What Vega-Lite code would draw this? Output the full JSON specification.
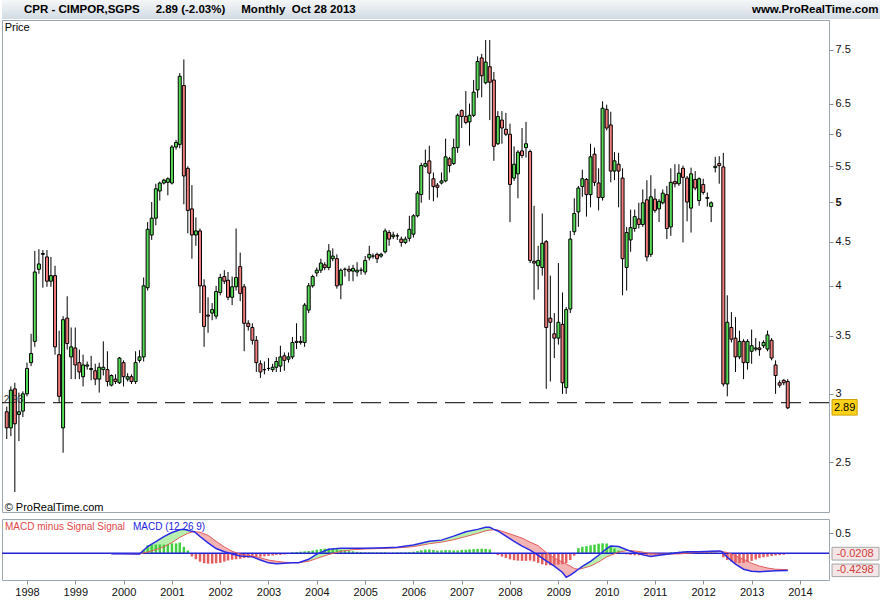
{
"$schema": "https://vega.github.io/schema/vega-lite/v6.json",
"padding": 0,
"background": "white",
"spacing": 1,
"bounds": "flush",
"config": {"font": "Liberation Sans", "view": {"stroke": "#9da7b0"}},
"datasets": {
"candles": [
{"t":"1997-08-01","o":2.86,"h":2.9,"l":2.66,"c":2.74},
{"t":"1997-09-01","o":2.74,"h":3.06,"l":2.68,"c":3.03},
{"t":"1997-10-01","o":3.04,"h":3.09,"l":2.31,"c":2.77},
{"t":"1997-11-01","o":2.84,"h":3.01,"l":2.645,"c":2.86},
{"t":"1997-12-01","o":2.865,"h":3.02,"l":2.82,"c":3.0},
{"t":"1998-01-01","o":3.0,"h":3.26,"l":2.98,"c":3.21},
{"t":"1998-02-01","o":3.26,"h":3.52,"l":3.23,"c":3.34},
{"t":"1998-03-01","o":3.45,"h":4.39,"l":3.4,"c":4.15},
{"t":"1998-04-01","o":4.18,"h":4.41,"l":4.13,"c":4.24},
{"t":"1998-05-01","o":4.36,"h":4.4,"l":3.98,"c":4.35},
{"t":"1998-06-01","o":4.32,"h":4.4,"l":3.99,"c":4.05},
{"t":"1998-07-01","o":4.05,"h":4.32,"l":3.99,"c":4.11},
{"t":"1998-08-01","o":4.11,"h":4.22,"l":3.33,"c":3.4},
{"t":"1998-09-01","o":3.33,"h":3.55,"l":2.93,"c":2.98},
{"t":"1998-10-01","o":2.74,"h":3.69,"l":2.565,"c":3.655},
{"t":"1998-11-01","o":3.67,"h":3.89,"l":3.375,"c":3.43},
{"t":"1998-12-01","o":3.31,"h":3.58,"l":3.12,"c":3.4},
{"t":"1999-01-01","o":3.39,"h":3.58,"l":3.12,"c":3.24},
{"t":"1999-02-01","o":3.26,"h":3.375,"l":3.12,"c":3.18},
{"t":"1999-03-01","o":3.14,"h":3.33,"l":3.06,"c":3.24},
{"t":"1999-04-01","o":3.23,"h":3.27,"l":3.2,"c":3.24},
{"t":"1999-05-01","o":3.2,"h":3.32,"l":3.11,"c":3.21},
{"t":"1999-06-01","o":3.19,"h":3.25,"l":3.07,"c":3.12},
{"t":"1999-07-01","o":3.12,"h":3.26,"l":3.01,"c":3.22},
{"t":"1999-08-01","o":3.2,"h":3.45,"l":3.15,"c":3.22},
{"t":"1999-09-01","o":3.2,"h":3.36,"l":3.06,"c":3.1},
{"t":"1999-10-01","o":3.07,"h":3.16,"l":3.06,"c":3.15},
{"t":"1999-11-01","o":3.12,"h":3.16,"l":3.08,"c":3.1},
{"t":"1999-12-01","o":3.09,"h":3.31,"l":3.08,"c":3.3},
{"t":"2000-01-01","o":3.26,"h":3.28,"l":3.06,"c":3.14},
{"t":"2000-02-01","o":3.12,"h":3.17,"l":3.1,"c":3.14},
{"t":"2000-03-01","o":3.14,"h":3.16,"l":3.08,"c":3.1},
{"t":"2000-04-01","o":3.1,"h":3.36,"l":3.08,"c":3.26},
{"t":"2000-05-01","o":3.28,"h":3.37,"l":3.26,"c":3.31},
{"t":"2000-06-01","o":3.31,"h":4.09,"l":3.27,"c":4.0},
{"t":"2000-07-01","o":3.98,"h":4.74,"l":3.95,"c":4.65},
{"t":"2000-08-01","o":4.58,"h":5.0,"l":4.52,"c":4.79},
{"t":"2000-09-01","o":4.79,"h":5.25,"l":4.7,"c":5.18},
{"t":"2000-10-01","o":5.15,"h":5.28,"l":5.02,"c":5.26},
{"t":"2000-11-01","o":5.26,"h":5.32,"l":5.24,"c":5.3},
{"t":"2000-12-01","o":5.27,"h":5.34,"l":5.09,"c":5.32},
{"t":"2001-01-01","o":5.26,"h":5.82,"l":5.24,"c":5.79},
{"t":"2001-02-01","o":5.79,"h":5.9,"l":5.75,"c":5.86},
{"t":"2001-03-01","o":5.83,"h":7.05,"l":5.77,"c":6.99},
{"t":"2001-04-01","o":6.82,"h":7.31,"l":4.97,"c":5.36},
{"t":"2001-05-01","o":5.47,"h":5.5,"l":4.6,"c":4.89},
{"t":"2001-06-01","o":4.91,"h":5.23,"l":4.3,"c":4.58},
{"t":"2001-07-01","o":4.58,"h":4.8,"l":4.45,"c":4.63},
{"t":"2001-08-01","o":4.63,"h":4.66,"l":3.72,"c":4.0},
{"t":"2001-09-01","o":4.0,"h":4.07,"l":3.4,"c":3.59},
{"t":"2001-10-01","o":3.7,"h":3.88,"l":3.53,"c":3.69},
{"t":"2001-11-01","o":3.72,"h":3.82,"l":3.65,"c":3.755},
{"t":"2001-12-01","o":3.69,"h":4.0,"l":3.66,"c":3.94},
{"t":"2002-01-01","o":3.93,"h":4.13,"l":3.9,"c":4.09},
{"t":"2002-02-01","o":4.1,"h":4.17,"l":4.02,"c":4.05},
{"t":"2002-03-01","o":4.06,"h":4.15,"l":3.85,"c":3.88},
{"t":"2002-04-01","o":3.88,"h":4.1,"l":3.8,"c":3.99},
{"t":"2002-05-01","o":3.99,"h":4.66,"l":3.95,"c":4.09},
{"t":"2002-06-01","o":4.21,"h":4.37,"l":3.84,"c":3.92},
{"t":"2002-07-01","o":3.99,"h":4.02,"l":3.36,"c":3.62},
{"t":"2002-08-01","o":3.62,"h":3.65,"l":3.55,"c":3.59},
{"t":"2002-09-01","o":3.58,"h":3.62,"l":3.42,"c":3.46},
{"t":"2002-10-01","o":3.46,"h":3.5,"l":3.18,"c":3.26},
{"t":"2002-11-01","o":3.25,"h":3.28,"l":3.13,"c":3.18},
{"t":"2002-12-01","o":3.2,"h":3.27,"l":3.16,"c":3.2},
{"t":"2003-01-01","o":3.21,"h":3.3,"l":3.19,"c":3.21},
{"t":"2003-02-01","o":3.2,"h":3.25,"l":3.18,"c":3.22},
{"t":"2003-03-01","o":3.22,"h":3.31,"l":3.18,"c":3.27},
{"t":"2003-04-01","o":3.23,"h":3.41,"l":3.18,"c":3.31},
{"t":"2003-05-01","o":3.32,"h":3.35,"l":3.19,"c":3.28},
{"t":"2003-06-01","o":3.29,"h":3.35,"l":3.26,"c":3.31},
{"t":"2003-07-01","o":3.31,"h":3.49,"l":3.29,"c":3.44},
{"t":"2003-08-01","o":3.45,"h":3.62,"l":3.38,"c":3.44},
{"t":"2003-09-01","o":3.44,"h":3.5,"l":3.42,"c":3.45},
{"t":"2003-10-01","o":3.44,"h":3.82,"l":3.4,"c":3.8},
{"t":"2003-11-01","o":3.75,"h":4.03,"l":3.72,"c":4.0},
{"t":"2003-12-01","o":4.0,"h":4.12,"l":3.98,"c":4.1},
{"t":"2004-01-01","o":4.14,"h":4.2,"l":4.1,"c":4.17},
{"t":"2004-02-01","o":4.17,"h":4.3,"l":4.14,"c":4.25},
{"t":"2004-03-01","o":4.23,"h":4.26,"l":4.17,"c":4.2},
{"t":"2004-04-01","o":4.2,"h":4.47,"l":4.17,"c":4.39},
{"t":"2004-05-01","o":4.3,"h":4.42,"l":4.27,"c":4.33},
{"t":"2004-06-01","o":4.3,"h":4.35,"l":3.97,"c":4.0},
{"t":"2004-07-01","o":4.01,"h":4.19,"l":3.86,"c":4.17},
{"t":"2004-08-01","o":4.18,"h":4.2,"l":4.1,"c":4.18},
{"t":"2004-09-01","o":4.18,"h":4.22,"l":4.05,"c":4.16},
{"t":"2004-10-01","o":4.16,"h":4.23,"l":4.05,"c":4.19},
{"t":"2004-11-01","o":4.15,"h":4.26,"l":4.1,"c":4.17},
{"t":"2004-12-01","o":4.17,"h":4.2,"l":4.12,"c":4.17},
{"t":"2005-01-01","o":4.15,"h":4.33,"l":4.12,"c":4.28},
{"t":"2005-02-01","o":4.31,"h":4.45,"l":4.28,"c":4.35},
{"t":"2005-03-01","o":4.33,"h":4.36,"l":4.3,"c":4.33},
{"t":"2005-04-01","o":4.35,"h":4.37,"l":4.25,"c":4.3},
{"t":"2005-05-01","o":4.33,"h":4.37,"l":4.31,"c":4.35},
{"t":"2005-06-01","o":4.38,"h":4.66,"l":4.36,"c":4.63},
{"t":"2005-07-01","o":4.61,"h":4.64,"l":4.45,"c":4.53},
{"t":"2005-08-01","o":4.56,"h":4.62,"l":4.53,"c":4.58},
{"t":"2005-09-01","o":4.57,"h":4.6,"l":4.52,"c":4.57},
{"t":"2005-10-01","o":4.53,"h":4.56,"l":4.44,"c":4.49},
{"t":"2005-11-01","o":4.49,"h":4.56,"l":4.47,"c":4.53},
{"t":"2005-12-01","o":4.54,"h":4.82,"l":4.5,"c":4.65},
{"t":"2006-01-01","o":4.59,"h":4.84,"l":4.55,"c":4.82},
{"t":"2006-02-01","o":4.82,"h":5.15,"l":4.8,"c":5.12},
{"t":"2006-03-01","o":5.1,"h":5.55,"l":4.99,"c":5.51},
{"t":"2006-04-01","o":5.5,"h":5.75,"l":5.48,"c":5.54},
{"t":"2006-05-01","o":5.58,"h":5.81,"l":5.03,"c":5.4},
{"t":"2006-06-01","o":5.32,"h":5.41,"l":5.01,"c":5.21},
{"t":"2006-07-01","o":5.23,"h":5.26,"l":5.06,"c":5.2},
{"t":"2006-08-01","o":5.26,"h":5.41,"l":5.24,"c":5.29},
{"t":"2006-09-01","o":5.29,"h":5.92,"l":5.27,"c":5.64},
{"t":"2006-10-01","o":5.61,"h":5.64,"l":5.41,"c":5.51},
{"t":"2006-11-01","o":5.54,"h":5.92,"l":5.52,"c":5.78},
{"t":"2006-12-01","o":5.78,"h":6.33,"l":5.7,"c":6.3},
{"t":"2007-01-01","o":6.38,"h":6.4,"l":6.09,"c":6.28},
{"t":"2007-02-01","o":6.28,"h":6.72,"l":6.15,"c":6.18},
{"t":"2007-03-01","o":6.19,"h":6.5,"l":5.81,"c":6.3},
{"t":"2007-04-01","o":6.3,"h":6.92,"l":6.27,"c":6.7},
{"t":"2007-05-01","o":6.74,"h":7.37,"l":6.6,"c":7.27},
{"t":"2007-06-01","o":7.34,"h":7.42,"l":6.61,"c":7.0},
{"t":"2007-07-01","o":6.87,"h":7.7,"l":6.84,"c":7.26},
{"t":"2007-08-01","o":7.17,"h":7.7,"l":6.22,"c":6.88},
{"t":"2007-09-01","o":6.92,"h":7.07,"l":5.58,"c":5.8},
{"t":"2007-10-01","o":5.84,"h":6.37,"l":5.82,"c":6.28},
{"t":"2007-11-01","o":6.22,"h":6.37,"l":5.84,"c":6.09},
{"t":"2007-12-01","o":6.07,"h":6.34,"l":5.96,"c":5.99},
{"t":"2008-01-01","o":5.99,"h":6.16,"l":4.74,"c":5.24},
{"t":"2008-02-01","o":5.33,"h":5.8,"l":5.29,"c":5.53},
{"t":"2008-03-01","o":5.39,"h":5.74,"l":5.05,"c":5.71},
{"t":"2008-04-01","o":5.73,"h":6.09,"l":5.62,"c":5.66},
{"t":"2008-05-01","o":5.78,"h":6.19,"l":5.63,"c":5.84},
{"t":"2008-06-01","o":5.72,"h":5.75,"l":4.25,"c":4.28},
{"t":"2008-07-01","o":4.27,"h":4.95,"l":3.855,"c":4.25},
{"t":"2008-08-01","o":4.22,"h":4.45,"l":3.96,"c":4.28},
{"t":"2008-09-01","o":4.2,"h":4.85,"l":4.11,"c":4.48},
{"t":"2008-10-01","o":4.5,"h":4.52,"l":3.04,"c":3.58},
{"t":"2008-11-01","o":3.67,"h":4.11,"l":3.1,"c":3.63},
{"t":"2008-12-01","o":3.52,"h":3.72,"l":3.3,"c":3.48},
{"t":"2009-01-01","o":3.48,"h":4.25,"l":3.42,"c":3.63},
{"t":"2009-02-01","o":3.61,"h":3.93,"l":3.0,"c":3.09},
{"t":"2009-03-01","o":3.05,"h":3.78,"l":3.0,"c":3.755},
{"t":"2009-04-01","o":3.76,"h":4.63,"l":3.72,"c":4.53},
{"t":"2009-05-01","o":4.62,"h":5.05,"l":4.58,"c":4.85},
{"t":"2009-06-01","o":4.87,"h":5.22,"l":4.68,"c":5.19},
{"t":"2009-07-01","o":5.21,"h":5.45,"l":5.07,"c":5.32},
{"t":"2009-08-01","o":5.31,"h":5.33,"l":4.81,"c":5.1},
{"t":"2009-09-01","o":5.1,"h":5.84,"l":4.93,"c":5.64},
{"t":"2009-10-01","o":5.68,"h":5.78,"l":5.22,"c":5.27},
{"t":"2009-11-01","o":5.26,"h":5.47,"l":4.89,"c":5.06},
{"t":"2009-12-01","o":5.06,"h":6.54,"l":5.02,"c":6.42},
{"t":"2010-01-01","o":6.4,"h":6.48,"l":6.05,"c":6.09},
{"t":"2010-02-01","o":6.14,"h":6.36,"l":5.27,"c":5.43},
{"t":"2010-03-01","o":5.43,"h":5.71,"l":5.3,"c":5.58},
{"t":"2010-04-01","o":5.53,"h":5.7,"l":4.93,"c":5.43},
{"t":"2010-05-01","o":5.33,"h":5.47,"l":3.9,"c":4.3},
{"t":"2010-06-01","o":4.2,"h":4.68,"l":3.95,"c":4.61},
{"t":"2010-07-01","o":4.52,"h":4.9,"l":4.38,"c":4.67},
{"t":"2010-08-01","o":4.66,"h":4.9,"l":4.62,"c":4.81},
{"t":"2010-09-01","o":4.78,"h":4.99,"l":4.66,"c":4.71},
{"t":"2010-10-01","o":4.71,"h":5.17,"l":4.68,"c":4.99},
{"t":"2010-11-01","o":5.03,"h":5.3,"l":4.27,"c":4.32},
{"t":"2010-12-01","o":4.35,"h":5.37,"l":4.32,"c":5.07},
{"t":"2011-01-01","o":5.04,"h":5.18,"l":4.86,"c":4.89},
{"t":"2011-02-01","o":4.91,"h":5.04,"l":4.74,"c":5.01},
{"t":"2011-03-01","o":4.99,"h":5.17,"l":4.97,"c":5.12},
{"t":"2011-04-01","o":5.1,"h":5.22,"l":4.53,"c":4.66},
{"t":"2011-05-01","o":4.68,"h":5.47,"l":4.57,"c":5.27},
{"t":"2011-06-01","o":5.28,"h":5.53,"l":5.2,"c":5.25},
{"t":"2011-07-01","o":5.25,"h":5.53,"l":5.22,"c":5.4},
{"t":"2011-08-01","o":5.47,"h":5.51,"l":4.49,"c":5.34},
{"t":"2011-09-01","o":5.33,"h":5.36,"l":4.75,"c":5.0},
{"t":"2011-10-01","o":4.92,"h":5.48,"l":4.61,"c":5.39},
{"t":"2011-11-01","o":5.31,"h":5.43,"l":5.16,"c":5.19},
{"t":"2011-12-01","o":5.02,"h":5.34,"l":4.95,"c":5.32},
{"t":"2012-01-01","o":5.24,"h":5.32,"l":5.1,"c":5.13},
{"t":"2012-02-01","o":5.06,"h":5.13,"l":4.94,"c":5.05},
{"t":"2012-03-01","o":4.94,"h":5.01,"l":4.74,"c":4.99},
{"t":"2012-04-01","o":5.48,"h":5.64,"l":5.41,"c":5.5},
{"t":"2012-05-01","o":5.54,"h":5.65,"l":5.25,"c":5.51},
{"t":"2012-06-01","o":5.49,"h":5.7,"l":3.06,"c":3.08},
{"t":"2012-07-01","o":3.08,"h":3.9,"l":2.98,"c":3.63},
{"t":"2012-08-01","o":3.58,"h":3.73,"l":3.44,"c":3.47},
{"t":"2012-09-01","o":3.48,"h":3.68,"l":3.18,"c":3.31},
{"t":"2012-10-01","o":3.31,"h":3.55,"l":3.29,"c":3.45},
{"t":"2012-11-01","o":3.45,"h":3.47,"l":3.12,"c":3.26},
{"t":"2012-12-01","o":3.26,"h":3.47,"l":3.2,"c":3.45},
{"t":"2013-01-01","o":3.36,"h":3.56,"l":3.25,"c":3.41},
{"t":"2013-02-01","o":3.38,"h":3.48,"l":3.36,"c":3.39},
{"t":"2013-03-01","o":3.39,"h":3.45,"l":3.32,"c":3.375},
{"t":"2013-04-01","o":3.41,"h":3.46,"l":3.39,"c":3.44},
{"t":"2013-05-01","o":3.38,"h":3.55,"l":3.36,"c":3.51},
{"t":"2013-06-01","o":3.46,"h":3.48,"l":3.28,"c":3.3},
{"t":"2013-07-01","o":3.24,"h":3.28,"l":3.0,"c":3.15},
{"t":"2013-08-01","o":3.09,"h":3.11,"l":3.05,"c":3.07},
{"t":"2013-09-01","o":3.11,"h":3.12,"l":3.07,"c":3.09},
{"t":"2013-10-01","o":3.1,"h":3.12,"l":2.88,"c":2.89}
],
"macd": [
{"t":"1999-10-01","m":-0.01,"s":-0.01,"g":0,"p":"na"},
{"t":"2000-01-01","m":-0.014,"s":-0.012,"g":0,"p":"na"},
{"t":"2000-05-01","m":-0.017,"s":-0.017,"g":1,"p":"up"},
{"t":"2000-07-01","m":0.17,"s":0.03,"g":1,"p":"up"},
{"t":"2000-09-01","m":0.29,"s":0.09,"g":1,"p":"up"},
{"t":"2000-11-01","m":0.42,"s":0.16,"g":1,"p":"up"},
{"t":"2001-01-01","m":0.52,"s":0.27,"g":1,"p":"up"},
{"t":"2001-03-01","m":0.59,"s":0.4,"g":1,"p":"up"},
{"t":"2001-04-01","m":0.6,"s":0.45,"g":1,"p":"up"},
{"t":"2001-05-01","m":0.58,"s":0.5,"g":1,"p":"up"},
{"t":"2001-06-01","m":0.55,"s":0.53,"g":1,"p":"up"},
{"t":"2001-06-19","m":0.54,"s":0.54,"g":1,"p":"up"},
{"t":"2001-06-19","m":0.54,"s":0.54,"g":2,"p":"dn"},
{"t":"2001-08-01","m":0.42,"s":0.53,"g":2,"p":"dn"},
{"t":"2001-10-01","m":0.26,"s":0.45,"g":2,"p":"dn"},
{"t":"2001-12-01","m":0.12,"s":0.3,"g":2,"p":"dn"},
{"t":"2002-02-01","m":0.04,"s":0.16,"g":2,"p":"dn"},
{"t":"2002-04-01","m":-0.02,"s":0.05,"g":2,"p":"dn"},
{"t":"2002-06-01","m":-0.07,"s":-0.02,"g":2,"p":"dn"},
{"t":"2002-09-01","m":-0.09,"s":-0.07,"g":2,"p":"dn"},
{"t":"2002-11-01","m":-0.17,"s":-0.11,"g":2,"p":"dn"},
{"t":"2003-01-01","m":-0.24,"s":-0.17,"g":2,"p":"dn"},
{"t":"2003-03-01","m":-0.26,"s":-0.2,"g":2,"p":"dn"},
{"t":"2003-05-01","m":-0.25,"s":-0.225,"g":2,"p":"dn"},
{"t":"2003-07-01","m":-0.24,"s":-0.235,"g":2,"p":"dn"},
{"t":"2003-08-16","m":-0.235,"s":-0.235,"g":2,"p":"dn"},
{"t":"2003-08-16","m":-0.235,"s":-0.235,"g":3,"p":"up"},
{"t":"2003-11-01","m":-0.15,"s":-0.2,"g":3,"p":"up"},
{"t":"2004-01-01","m":-0.02,"s":-0.13,"g":3,"p":"up"},
{"t":"2004-04-01","m":0.1,"s":-0.03,"g":3,"p":"up"},
{"t":"2004-07-01","m":0.125,"s":0.05,"g":3,"p":"up"},
{"t":"2004-10-01","m":0.125,"s":0.09,"g":3,"p":"up"},
{"t":"2005-01-01","m":0.125,"s":0.108,"g":3,"p":"up"},
{"t":"2005-06-01","m":0.14,"s":0.123,"g":3,"p":"up"},
{"t":"2005-09-01","m":0.15,"s":0.135,"g":3,"p":"up"},
{"t":"2006-01-01","m":0.21,"s":0.167,"g":3,"p":"up"},
{"t":"2006-05-01","m":0.3,"s":0.24,"g":3,"p":"up"},
{"t":"2006-08-01","m":0.33,"s":0.28,"g":3,"p":"up"},
{"t":"2006-11-01","m":0.43,"s":0.34,"g":3,"p":"up"},
{"t":"2007-02-01","m":0.54,"s":0.42,"g":3,"p":"up"},
{"t":"2007-05-01","m":0.6,"s":0.5,"g":3,"p":"up"},
{"t":"2007-07-01","m":0.65,"s":0.565,"g":3,"p":"up"},
{"t":"2007-08-01","m":0.65,"s":0.58,"g":3,"p":"up"},
{"t":"2007-09-01","m":0.6,"s":0.59,"g":3,"p":"up"},
{"t":"2007-09-10","m":0.59,"s":0.59,"g":3,"p":"up"},
{"t":"2007-09-10","m":0.59,"s":0.59,"g":4,"p":"dn"},
{"t":"2007-10-01","m":0.56,"s":0.585,"g":4,"p":"dn"},
{"t":"2007-12-01","m":0.43,"s":0.52,"g":4,"p":"dn"},
{"t":"2008-02-01","m":0.3,"s":0.45,"g":4,"p":"dn"},
{"t":"2008-04-01","m":0.18,"s":0.38,"g":4,"p":"dn"},
{"t":"2008-06-01","m":0.08,"s":0.28,"g":4,"p":"dn"},
{"t":"2008-08-01","m":-0.05,"s":0.19,"g":4,"p":"dn"},
{"t":"2008-10-01","m":-0.19,"s":0.02,"g":4,"p":"dn"},
{"t":"2008-12-01","m":-0.32,"s":-0.12,"g":4,"p":"dn"},
{"t":"2009-02-01","m":-0.48,"s":-0.22,"g":4,"p":"dn"},
{"t":"2009-03-01","m":-0.6,"s":-0.27,"g":4,"p":"dn"},
{"t":"2009-04-01","m":-0.55,"s":-0.32,"g":4,"p":"dn"},
{"t":"2009-05-01","m":-0.48,"s":-0.38,"g":4,"p":"dn"},
{"t":"2009-06-01","m":-0.4,"s":-0.4,"g":4,"p":"dn"},
{"t":"2009-06-01","m":-0.4,"s":-0.4,"g":5,"p":"up"},
{"t":"2009-07-01","m":-0.33,"s":-0.38,"g":5,"p":"up"},
{"t":"2009-09-01","m":-0.2,"s":-0.32,"g":5,"p":"up"},
{"t":"2009-11-01","m":-0.05,"s":-0.22,"g":5,"p":"up"},
{"t":"2010-01-01","m":0.12,"s":-0.09,"g":5,"p":"up"},
{"t":"2010-02-01","m":0.18,"s":-0.05,"g":5,"p":"up"},
{"t":"2010-04-01","m":0.17,"s":0.03,"g":5,"p":"up"},
{"t":"2010-06-01","m":0.09,"s":0.065,"g":5,"p":"up"},
{"t":"2010-06-22","m":0.065,"s":0.065,"g":5,"p":"up"},
{"t":"2010-06-22","m":0.065,"s":0.065,"g":6,"p":"dn"},
{"t":"2010-08-01","m":0.02,"s":0.06,"g":6,"p":"dn"},
{"t":"2010-10-01","m":-0.04,"s":0.03,"g":6,"p":"dn"},
{"t":"2010-12-01","m":-0.08,"s":-0.01,"g":6,"p":"dn"},
{"t":"2011-02-01","m":-0.05,"s":-0.02,"g":6,"p":"dn"},
{"t":"2011-04-01","m":-0.025,"s":-0.02,"g":6,"p":"dn"},
{"t":"2011-04-16","m":-0.02,"s":-0.02,"g":6,"p":"dn"},
{"t":"2011-04-16","m":-0.02,"s":-0.02,"g":7,"p":"up"},
{"t":"2011-07-01","m":0.02,"s":-0.015,"g":7,"p":"up"},
{"t":"2011-09-01","m":0.04,"s":0.0,"g":7,"p":"up"},
{"t":"2011-12-01","m":0.04,"s":0.025,"g":7,"p":"up"},
{"t":"2012-03-01","m":0.05,"s":0.035,"g":7,"p":"up"},
{"t":"2012-05-01","m":0.06,"s":0.045,"g":7,"p":"up"},
{"t":"2012-05-19","m":0.045,"s":0.045,"g":7,"p":"up"},
{"t":"2012-05-19","m":0.045,"s":0.045,"g":8,"p":"dn"},
{"t":"2012-07-01","m":-0.1,"s":0.02,"g":8,"p":"dn"},
{"t":"2012-09-01","m":-0.27,"s":-0.06,"g":8,"p":"dn"},
{"t":"2012-11-01","m":-0.4,"s":-0.15,"g":8,"p":"dn"},
{"t":"2013-01-01","m":-0.45,"s":-0.25,"g":8,"p":"dn"},
{"t":"2013-03-01","m":-0.46,"s":-0.32,"g":8,"p":"dn"},
{"t":"2013-05-01","m":-0.45,"s":-0.37,"g":8,"p":"dn"},
{"t":"2013-07-01","m":-0.44,"s":-0.4,"g":8,"p":"dn"},
{"t":"2013-10-01","m":-0.43,"s":-0.41,"g":8,"p":"dn"}
],
"hist": [
{"t":"2000-06-01","v":0.08},{"t":"2000-07-01","v":0.2},{"t":"2000-08-01","v":0.22},{"t":"2000-09-01","v":0.22},{"t":"2000-10-01","v":0.22},{"t":"2000-11-01","v":0.22},{"t":"2000-12-01","v":0.22},
{"t":"2001-01-01","v":0.25},{"t":"2001-02-01","v":0.25},{"t":"2001-03-01","v":0.27},{"t":"2001-04-01","v":0.16},{"t":"2001-05-01","v":0.07},{"t":"2001-06-01","v":-0.08},{"t":"2001-07-01","v":-0.15},{"t":"2001-08-01","v":-0.21},{"t":"2001-09-01","v":-0.25},{"t":"2001-10-01","v":-0.26},{"t":"2001-11-01","v":-0.26},{"t":"2001-12-01","v":-0.25},
{"t":"2002-01-01","v":-0.24},{"t":"2002-02-01","v":-0.21},{"t":"2002-03-01","v":-0.18},{"t":"2002-04-01","v":-0.16},{"t":"2002-05-01","v":-0.15},{"t":"2002-06-01","v":-0.14},{"t":"2002-07-01","v":-0.12},{"t":"2002-08-01","v":-0.11},{"t":"2002-09-01","v":-0.1},{"t":"2002-10-01","v":-0.09},{"t":"2002-11-01","v":-0.087},{"t":"2002-12-01","v":-0.078},
{"t":"2003-01-01","v":-0.066},{"t":"2003-02-01","v":-0.057},{"t":"2003-03-01","v":-0.041},{"t":"2003-04-01","v":-0.041},{"t":"2003-05-01","v":-0.029},{"t":"2003-06-01","v":-0.016},{"t":"2003-07-01","v":0.025},{"t":"2003-08-01","v":0.033},{"t":"2003-09-01","v":0.041},{"t":"2003-10-01","v":0.049},{"t":"2003-11-01","v":0.057},{"t":"2003-12-01","v":0.07},
{"t":"2004-01-01","v":0.09},{"t":"2004-02-01","v":0.107},{"t":"2004-03-01","v":0.115},{"t":"2004-04-01","v":0.115},{"t":"2004-05-01","v":0.107},{"t":"2004-06-01","v":0.098},{"t":"2004-07-01","v":0.082},{"t":"2004-08-01","v":0.07},{"t":"2004-09-01","v":0.06},{"t":"2004-10-01","v":0.05},{"t":"2004-11-01","v":0.038},{"t":"2004-12-01","v":0.03},
{"t":"2005-01-01","v":0.025},{"t":"2005-02-01","v":0.025},{"t":"2005-03-01","v":0.025},{"t":"2005-04-01","v":0.025},{"t":"2005-05-01","v":0.025},{"t":"2005-06-01","v":0.025},{"t":"2005-07-01","v":0.016},{"t":"2005-08-01","v":0.019},{"t":"2005-09-01","v":0.025},{"t":"2005-10-01","v":0.025},{"t":"2005-11-01","v":0.025},{"t":"2005-12-01","v":0.031},
{"t":"2006-01-01","v":0.039},{"t":"2006-02-01","v":0.055},{"t":"2006-03-01","v":0.076},{"t":"2006-04-01","v":0.093},{"t":"2006-05-01","v":0.095},{"t":"2006-06-01","v":0.082},{"t":"2006-07-01","v":0.066},{"t":"2006-08-01","v":0.072},{"t":"2006-09-01","v":0.08},{"t":"2006-10-01","v":0.077},{"t":"2006-11-01","v":0.07},{"t":"2006-12-01","v":0.071},
{"t":"2007-01-01","v":0.084},{"t":"2007-02-01","v":0.09},{"t":"2007-03-01","v":0.098},{"t":"2007-04-01","v":0.105},{"t":"2007-05-01","v":0.112},{"t":"2007-06-01","v":0.115},{"t":"2007-07-01","v":0.11},{"t":"2007-08-01","v":0.098},{"t":"2007-09-01","v":-0.01},{"t":"2007-10-01","v":-0.045},{"t":"2007-11-01","v":-0.082},{"t":"2007-12-01","v":-0.117},
{"t":"2008-01-01","v":-0.153},{"t":"2008-02-01","v":-0.174},{"t":"2008-03-01","v":-0.185},{"t":"2008-04-01","v":-0.19},{"t":"2008-05-01","v":-0.19},{"t":"2008-06-01","v":-0.184},{"t":"2008-07-01","v":-0.205},{"t":"2008-08-01","v":-0.24},{"t":"2008-09-01","v":-0.276},{"t":"2008-10-01","v":-0.3},{"t":"2008-11-01","v":-0.3},{"t":"2008-12-01","v":-0.29},
{"t":"2009-01-01","v":-0.285},{"t":"2009-02-01","v":-0.275},{"t":"2009-03-01","v":-0.246},{"t":"2009-04-01","v":-0.17},{"t":"2009-05-01","v":-0.06},{"t":"2009-06-01","v":0.13},{"t":"2009-07-01","v":0.164},{"t":"2009-08-01","v":0.18},{"t":"2009-09-01","v":0.2},{"t":"2009-10-01","v":0.217},{"t":"2009-11-01","v":0.24},{"t":"2009-12-01","v":0.25},
{"t":"2010-01-01","v":0.246},{"t":"2010-02-01","v":0.19},{"t":"2010-03-01","v":0.12},{"t":"2010-04-01","v":0.066},{"t":"2010-05-01","v":0.01},{"t":"2010-06-01","v":-0.027},{"t":"2010-07-01","v":-0.041},{"t":"2010-08-01","v":-0.049},{"t":"2010-09-01","v":-0.049},{"t":"2010-10-01","v":-0.043},{"t":"2010-11-01","v":-0.036},{"t":"2010-12-01","v":-0.033},
{"t":"2011-01-01","v":-0.03},{"t":"2011-02-01","v":-0.023},{"t":"2011-03-01","v":-0.016},{"t":"2011-04-01","v":-0.016},{"t":"2011-05-01","v":0.025},{"t":"2011-06-01","v":0.03},{"t":"2011-07-01","v":0.038},{"t":"2011-08-01","v":0.044},{"t":"2011-09-01","v":0.049},{"t":"2011-10-01","v":0.049},{"t":"2011-11-01","v":0.041},{"t":"2011-12-01","v":0.041},
{"t":"2012-01-01","v":0.041},{"t":"2012-02-01","v":0.035},{"t":"2012-03-01","v":0.028},{"t":"2012-04-01","v":0.02},{"t":"2012-05-01","v":0.008},{"t":"2012-06-01","v":-0.1},{"t":"2012-07-01","v":-0.17},{"t":"2012-08-01","v":-0.205},{"t":"2012-09-01","v":-0.24},{"t":"2012-10-01","v":-0.246},{"t":"2012-11-01","v":-0.24},{"t":"2012-12-01","v":-0.22},
{"t":"2013-01-01","v":-0.19},{"t":"2013-02-01","v":-0.156},{"t":"2013-03-01","v":-0.12},{"t":"2013-04-01","v":-0.098},{"t":"2013-05-01","v":-0.084},{"t":"2013-06-01","v":-0.07},{"t":"2013-07-01","v":-0.056},{"t":"2013-08-01","v":-0.045},{"t":"2013-09-01","v":-0.038},{"t":"2013-10-01","v":-0.021}
]
},
"vconcat": [
{
"width": 880, "height": 19,
"view": {"stroke": null, "fill": {"gradient": "linear", "x1": 0, "y1": 0, "x2": 0, "y2": 1, "stops": [{"offset": 0, "color": "#f5f7f9"}, {"offset": 1, "color": "#d2dbe3"}]}},
"layer": [
{"data": {"values": [{"label": "CPR - CIMPOR,SGPS\u00a0\u00a0\u00a0\u00a0 2.89 (-2.03%)\u00a0\u00a0\u00a0\u00a0 Monthly\u00a0 Oct 28 2013"}]},
 "mark": {"type": "text", "align": "left", "baseline": "middle", "fontWeight": "bold", "fontSize": 11.5, "color": "#000"},
 "encoding": {"x": {"datum": 0.025, "type": "quantitative", "scale": {"domain": [0, 1], "nice": false}, "axis": null}, "text": {"field": "label"}}},
{"data": {"values": [{"label": "www.ProRealTime.com"}]},
 "mark": {"type": "text", "align": "right", "baseline": "middle", "fontWeight": "bold", "fontSize": 11.5, "color": "#000"},
 "encoding": {"x": {"datum": 0.996, "type": "quantitative", "axis": null}, "text": {"field": "label"}}}
]
},
{
"spacing": 7,
"bounds": "flush",
"vconcat": [
{
"width": 827, "height": 492,
"view": {"stroke": "#9da7b0", "fill": "white"},
"layer": [
{"data": {"values": [{"lvl": 2.93}]},
 "mark": {"type": "rule", "color": "#000", "strokeWidth": 1, "strokeDash": [20, 8]},
 "encoding": {"y": {"field": "lvl", "type": "quantitative", "scale": {"type": "log", "domain": [2.19, 8.12], "nice": false, "zero": false},
   "axis": {"orient": "right", "title": null, "values": [2.5, 3, 3.5, 4, 4.5, 5, 5.5, 6, 6.5, 7.5], "format": "~g", "domain": false, "grid": false, "tickSize": 4, "tickColor": "#8a8f94", "labelFontSize": 11, "labelColor": "#111", "labelPadding": 2,
   "labelFontWeight": {"condition": {"test": "datum.value == 5", "value": "bold"}, "value": "normal"}}}}},
{"data": {"name": "candles"},
 "mark": {"type": "rule", "color": "#000", "strokeWidth": 1},
 "encoding": {"x": {"field": "t", "type": "temporal", "scale": {"domain": [{"year": 1997, "month": 6, "date": 26}, {"year": 2014, "month": 8, "date": 9}], "nice": false, "padding": 0}, "axis": null},
   "y": {"field": "l", "type": "quantitative", "axis": {"title": null}}, "y2": {"field": "h"}}},
{"data": {"name": "candles"},
 "mark": {"type": "bar", "width": 3, "stroke": "#000", "strokeWidth": 1},
 "encoding": {"x": {"field": "t", "type": "temporal", "axis": null},
   "y": {"field": "o", "type": "quantitative", "axis": {"title": null}}, "y2": {"field": "c"},
   "fill": {"condition": {"test": "datum.c >= datum.o", "value": "#55dc55"}, "value": "#f27b7b"}}},
{"data": {"values": [{"label": "Price"}]},
 "mark": {"type": "text", "align": "left", "baseline": "middle", "fontSize": 11, "color": "#000"},
 "encoding": {"x": {"datum": {"year": 1997, "month": 7, "date": 16}, "type": "temporal", "axis": null}, "y": {"datum": 7.95, "type": "quantitative", "axis": {"title": null}}, "text": {"field": "label"}}},
{"data": {"values": [{"label": "\u00a9 ProRealTime.com"}]},
 "mark": {"type": "text", "align": "left", "baseline": "middle", "fontSize": 11, "color": "#000"},
 "encoding": {"x": {"datum": {"year": 1997, "month": 7, "date": 16}, "type": "temporal", "axis": null}, "y": {"datum": 2.215, "type": "quantitative", "axis": {"title": null}}, "text": {"field": "label"}}},
{"data": {"values": [{"label": "2.93"}]},
 "mark": {"type": "text", "align": "left", "baseline": "middle", "fontSize": 10, "color": "#333"},
 "encoding": {"x": {"datum": {"year": 1997, "month": 7, "date": 10}, "type": "temporal", "axis": null}, "y": {"datum": 2.955, "type": "quantitative", "axis": {"title": null}}, "text": {"field": "label"}}},
{"data": {"values": [{}]},
 "mark": {"type": "rect", "fill": "#ffd21a", "stroke": "#c9a100", "strokeWidth": 1},
 "encoding": {"x": {"datum": {"year": 2014, "month": 9, "date": 1}, "type": "temporal", "axis": null}, "x2": {"datum": {"year": 2015, "month": 3, "date": 10}},
   "y": {"datum": 2.955, "type": "quantitative", "axis": {"title": null}}, "y2": {"datum": 2.835}}},
{"data": {"values": [{"label": "2.89"}]},
 "mark": {"type": "text", "align": "center", "baseline": "middle", "fontSize": 11, "color": "#000"},
 "encoding": {"x": {"datum": {"year": 2014, "month": 12, "date": 5}, "type": "temporal", "axis": null}, "y": {"datum": 2.89, "type": "quantitative", "axis": {"title": null}}, "text": {"field": "label"}}}
]
},
{
"width": 827, "height": 61,
"view": {"stroke": "#9da7b0", "fill": "white"},
"layer": [
{"data": {"name": "macd"},
 "transform": [{"filter": "datum.g > 0"}],
 "mark": {"type": "area", "opacity": 1},
 "encoding": {"x": {"field": "t", "type": "temporal", "scale": {"domain": [{"year": 1997, "month": 6, "date": 26}, {"year": 2014, "month": 8, "date": 9}], "nice": false, "padding": 0},
   "axis": {"title": null, "values": [{"year": 1998}, {"year": 1999}, {"year": 2000}, {"year": 2001}, {"year": 2002}, {"year": 2003}, {"year": 2004}, {"year": 2005}, {"year": 2006}, {"year": 2007}, {"year": 2008}, {"year": 2009}, {"year": 2010}, {"year": 2011}, {"year": 2012}, {"year": 2013}, {"year": 2014}],
   "format": "%Y", "domain": false, "grid": false, "tickSize": 4, "tickColor": "#8a8f94", "labelFontSize": 11, "labelColor": "#111", "labelPadding": 2, "labelOverlap": false, "labelFlush": false}},
   "y": {"field": "m", "type": "quantitative", "scale": {"domain": [-0.67, 0.86], "nice": false, "zero": false},
   "axis": {"orient": "right", "title": null, "values": [0.5], "format": ".1f", "domain": false, "grid": false, "tickSize": 4, "tickColor": "#8a8f94", "labelFontSize": 11, "labelColor": "#111", "labelPadding": 2}},
   "y2": {"field": "s"},
   "color": {"field": "p", "type": "nominal", "scale": {"domain": ["up", "dn"], "range": ["#b6f0ac", "#f4b4b4"]}, "legend": null},
   "detail": {"field": "g", "type": "nominal"}}},
{"data": {"name": "hist"},
 "mark": {"type": "bar", "width": 2.5},
 "encoding": {"x": {"field": "t", "type": "temporal", "axis": {"title": null}},
   "y": {"field": "v", "type": "quantitative", "axis": {"title": null}}, "y2": {"datum": 0},
   "fill": {"condition": {"test": "datum.v >= 0", "value": "#3fcf3f"}, "value": "#e35f5f"}}},
{"data": {"values": [{"z": 0}]},
 "mark": {"type": "rule", "color": "#2323d6", "strokeWidth": 1.5},
 "encoding": {"y": {"field": "z", "type": "quantitative", "axis": {"title": null}}}},
{"data": {"name": "macd"},
 "mark": {"type": "line", "color": "#e35d5d", "strokeWidth": 1},
 "encoding": {"x": {"field": "t", "type": "temporal", "axis": {"title": null}}, "y": {"field": "s", "type": "quantitative", "axis": {"title": null}}}},
{"data": {"name": "macd"},
 "mark": {"type": "line", "color": "#2a2ae6", "strokeWidth": 1.5},
 "encoding": {"x": {"field": "t", "type": "temporal", "axis": {"title": null}}, "y": {"field": "m", "type": "quantitative", "axis": {"title": null}}}},
{"data": {"values": [{"label": "MACD minus Signal Signal"}]},
 "mark": {"type": "text", "align": "left", "baseline": "middle", "fontSize": 10, "color": "#e04848"},
 "encoding": {"x": {"datum": {"year": 1997, "month": 7, "date": 19}, "type": "temporal", "axis": {"title": null}}, "y": {"datum": 0.67, "type": "quantitative", "axis": {"title": null}}, "text": {"field": "label"}}},
{"data": {"values": [{"label": "MACD (12 26 9)"}]},
 "mark": {"type": "text", "align": "left", "baseline": "middle", "fontSize": 10, "color": "#2222dd"},
 "encoding": {"x": {"datum": {"year": 2000, "month": 3, "date": 12}, "type": "temporal", "axis": {"title": null}}, "y": {"datum": 0.67, "type": "quantitative", "axis": {"title": null}}, "text": {"field": "label"}}},
{"data": {"values": [{}]},
 "mark": {"type": "rect", "fill": "#f4e6e6", "stroke": "#a5a5a5", "strokeWidth": 1},
 "encoding": {"x": {"datum": {"year": 2014, "month": 9, "date": 1}, "type": "temporal", "axis": {"title": null}}, "x2": {"datum": {"year": 2015, "month": 8, "date": 22}},
   "y": {"datum": 0.15, "type": "quantitative", "axis": {"title": null}}, "y2": {"datum": -0.17}}},
{"data": {"values": [{}]},
 "mark": {"type": "rect", "fill": "#f4e6e6", "stroke": "#a5a5a5", "strokeWidth": 1},
 "encoding": {"x": {"datum": {"year": 2014, "month": 9, "date": 1}, "type": "temporal", "axis": {"title": null}}, "x2": {"datum": {"year": 2015, "month": 8, "date": 22}},
   "y": {"datum": -0.27, "type": "quantitative", "axis": {"title": null}}, "y2": {"datum": -0.585}}},
{"data": {"values": [{"label": "-0.0208"}]},
 "mark": {"type": "text", "align": "center", "baseline": "middle", "fontSize": 11, "color": "#d03c3c"},
 "encoding": {"x": {"datum": {"year": 2015, "month": 2, "date": 22}, "type": "temporal", "axis": {"title": null}}, "y": {"datum": -0.01, "type": "quantitative", "axis": {"title": null}}, "text": {"field": "label"}}},
{"data": {"values": [{"label": "-0.4298"}]},
 "mark": {"type": "text", "align": "center", "baseline": "middle", "fontSize": 11, "color": "#d03c3c"},
 "encoding": {"x": {"datum": {"year": 2015, "month": 2, "date": 22}, "type": "temporal", "axis": {"title": null}}, "y": {"datum": -0.43, "type": "quantitative", "axis": {"title": null}}, "text": {"field": "label"}}}
]
}
]
}
]
}
